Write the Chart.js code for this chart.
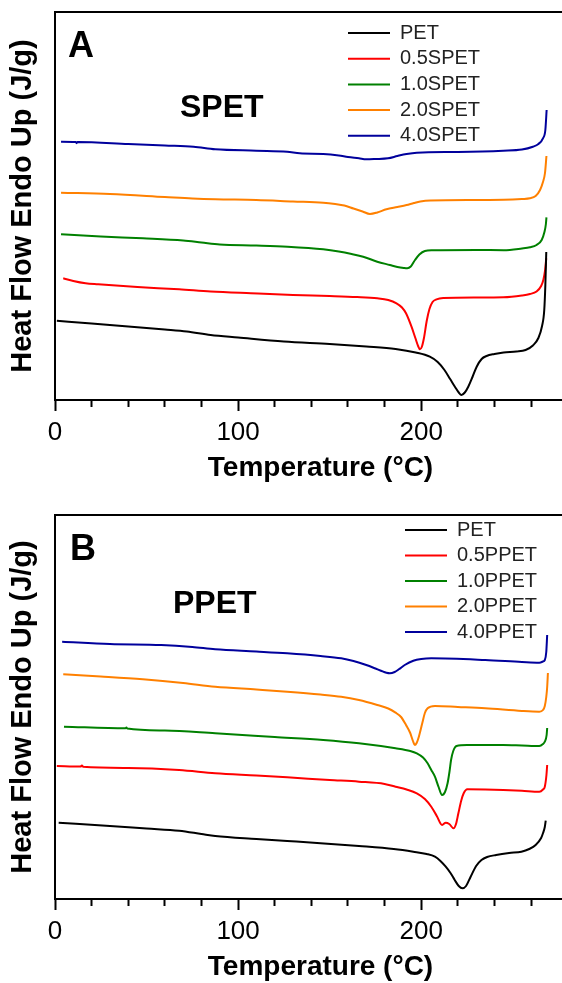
<!DOCTYPE html>
<html>
<head>
<meta charset="utf-8">
<script src="https://cdn.jsdelivr.net/npm/chart.js@4.4.1/dist/chart.umd.min.js"></script>
<style>
  html, body { margin: 0; padding: 0; background: #fff; overflow: hidden; width: 562px; height: 983px; }
  canvas { position: absolute; left: 0; }
  #chartS { top: 0; }
  #chartP { top: 495px; }
</style>
</head>
<body>
<canvas id="chartS" width="586" height="495"></canvas>
<canvas id="chartP" width="586" height="488"></canvas>
<script>
// DSC heating scans: temperature (°C) vs. heat flow, curves offset vertically (endo up)
const namesS = ['PET', '0.5SPET', '1.0SPET', '2.0SPET', '4.0SPET'];
const namesP = ['PET', '0.5PPET', '1.0PPET', '2.0PPET', '4.0PPET'];
const curveColors = ['#000000', '#ff0000', '#008000', '#ff8000', '#00009c'];
const xTickLabels = [0, 100, 200];

// ---- Panel A: SPET series, [temperature, heat flow] ----
const petS = [[1,7.93],[20,7.65],[40,7.35],[60,7.05],[72,6.85],[85,6.5],[100,6.25],[125,5.85],[150,5.6],[170,5.35],[186,5.1],[197,4.75],[204.7,4.33],[209,3.8],[212.7,3.0],[215.8,2.1],[218.4,1.33],[220.5,0.75],[222,0.5],[223.8,0.75],[225.7,1.33],[228,2.3],[230.3,3.33],[233,4.1],[235.7,4.4],[240,4.6],[245,4.75],[252,4.85],[257,5.0],[261,5.45],[264,6.2],[266,7.4],[267.2,9.0],[267.8,11.5],[268.3,14.8]];
const s05 = [[4.5,12.17],[10,11.9],[16.7,11.67],[23.6,11.57],[45,11.3],[67.8,11.07],[85,10.85],[107,10.67],[130,10.5],[150,10.4],[165,10.3],[176,10.17],[182,10.0],[186.5,9.67],[189.5,9.25],[191.7,8.67],[194.7,7.33],[196.8,6.2],[198.3,5.4],[199.3,5.07],[200.3,5.3],[201.5,6.2],[203,7.9],[204.5,9.1],[206.2,9.8],[208.4,10.07],[212,10.2],[230,10.25],[245,10.27],[255,10.45],[259.4,10.6],[263,10.85],[265.5,11.4],[266.7,12.0],[267.6,12.9],[268.3,14.17]];
const s10 = [[3.3,16.57],[25,16.35],[48,16.17],[70,15.95],[80,15.75],[90,15.55],[110,15.45],[127,15.33],[146.5,15.07],[155,14.85],[162,14.6],[168.3,14.33],[176,13.83],[182.9,13.5],[187,13.3],[190.5,13.2],[192.4,13.17],[194.3,13.35],[196.6,14.0],[199,14.55],[202,14.9],[206,14.97],[230,15.0],[245,14.98],[255,15.15],[259.4,15.27],[263,15.5],[265.8,16.0],[267.3,16.8],[268.1,17.6],[268.4,18.27]];
const s20 = [[3.3,20.73],[30,20.6],[60,20.3],[75,20.15],[87.5,20.07],[110,20.0],[130,19.85],[146.5,19.73],[153,19.6],[158,19.45],[163,19.15],[168,18.85],[172,18.6],[176,18.75],[181,19.07],[187,19.3],[192,19.5],[196,19.7],[199.5,19.85],[205,19.95],[230,20.0],[245,20.02],[255,20.1],[259.4,20.17],[262.5,20.4],[264.9,21.0],[266.5,21.8],[267.6,22.7],[268.4,24.4]];
const s40 = [[3.3,25.83],[11.3,25.8],[11.8,25.68],[12.3,25.8],[40,25.6],[60,25.45],[75.7,25.33],[87.5,25.07],[110,24.93],[126.8,24.83],[133.7,24.67],[146.5,24.6],[155,24.45],[160,24.3],[166,24.17],[170,24.07],[175,24.1],[181.9,24.17],[187,24.4],[192,24.6],[197.6,24.73],[220,24.8],[244.8,24.93],[255,25.05],[261,25.33],[264,25.6],[266.5,26.17],[267.8,27.0],[268.5,29.0]];

// ---- Panel B: PPET series, [temperature, heat flow] ----
const petP = [[2,7.63],[30,7.3],[50,7.05],[67.8,6.83],[80,6.5],[87.5,6.3],[110,6.0],[126.8,5.8],[145,5.58],[166,5.3],[185,5.0],[195.7,4.73],[203,4.5],[207.5,4.23],[210.5,3.8],[213.4,3.23],[216,2.6],[218.3,1.9],[220.5,1.3],[222.5,1.07],[224.5,1.3],[227,2.23],[230,3.3],[232.9,3.9],[236,4.2],[240.9,4.4],[248,4.6],[254.7,4.73],[259,5.0],[262.5,5.4],[265.5,6.1],[266.5,6.57],[267.5,7.2],[268,7.83]];
const p05 = [[1,13.3],[14,13.25],[14.7,13.35],[15.4,13.22],[40,13.1],[67.8,12.9],[87.5,12.57],[110,12.35],[126.8,12.17],[150,11.9],[166,11.73],[180,11.5],[186,11.23],[192,10.95],[197.6,10.57],[202,10.0],[205.5,9.23],[208.5,8.3],[211.4,7.4],[213.4,7.63],[215.3,7.5],[217.7,7.07],[219,7.5],[220.3,8.57],[221.8,9.8],[223.2,10.57],[225.2,10.97],[235,10.95],[244.8,10.9],[255,10.82],[264.5,10.73],[266.5,10.95],[267.5,11.23],[268.4,12.4],[268.8,13.4]];
const p10 = [[4.9,17.23],[38.5,17.07],[39,17.15],[39.5,17.05],[60,16.85],[87.5,16.57],[120,16.2],[146.5,15.9],[166,15.57],[186,15.07],[194,14.8],[197.6,14.57],[201,14.15],[203.5,13.57],[205.5,12.9],[207.5,12.23],[209.5,11.2],[211.4,10.4],[213,10.7],[214.4,11.57],[215.5,12.8],[216.3,13.9],[217.5,14.8],[219.3,15.3],[225,15.4],[244.8,15.4],[255,15.35],[264.5,15.3],[266.5,15.5],[267.5,15.73],[268.5,16.4],[268.8,17.1]];
const p20 = [[4.5,22.47],[25,22.25],[48,21.97],[70,21.6],[87.5,21.23],[110,20.95],[126.8,20.73],[145,20.45],[156.3,20.23],[166,19.9],[176,19.4],[182,19.05],[186,18.63],[189,18.2],[191.7,17.4],[194,16.6],[195.5,15.8],[196.5,15.4],[197.5,15.6],[198.5,16.1],[200.6,17.6],[202,18.6],[203.5,19.07],[207.5,19.3],[220,19.2],[235,19.07],[255,18.8],[264.5,18.73],[266.5,18.9],[267.5,19.3],[268.3,20.2],[268.8,21.2],[269.2,22.6]];
const p40 = [[3.9,25.73],[30,25.5],[58,25.4],[75,25.2],[87.5,24.97],[110,24.75],[126.8,24.57],[145,24.3],[156.3,24.07],[163,23.8],[170,23.4],[175,23.05],[178,22.83],[181,22.62],[182.9,22.57],[185.5,22.7],[187.8,22.97],[191,23.4],[195.7,23.83],[200,24.0],[205.5,24.07],[235,23.9],[255,23.7],[264.5,23.63],[266.5,23.75],[267.5,23.9],[268.3,24.7],[268.8,26.4]];

const FONT = "'Liberation Sans', Arial, Helvetica, sans-serif";

// Moves the legend box to a fixed spot inside the plot
const legendSpot = {
  id: 'legendSpot',
  afterLayout(chart, args, opts) {
    const lg = chart.legend;
    if (!lg || opts.x == null) return;
    const w = lg.width, h = lg.height;
    lg.left = opts.x; lg.right = opts.x + w;
    lg.top = opts.y; lg.bottom = opts.y + h;
  }
};

// Panel letter and series-family caption
const panelText = {
  id: 'panelText',
  afterDraw(chart, args, opts) {
    const ctx = chart.ctx;
    ctx.save();
    ctx.fillStyle = '#000';
    ctx.textAlign = 'left';
    ctx.textBaseline = 'alphabetic';
    (opts.items || []).forEach(it => {
      ctx.font = it.font;
      ctx.fillText(it.text, it.x, it.y);
    });
    ctx.restore();
  }
};

function buildChart(canvasId, names, series, cfg) {
  const datasets = series.map((pts, i) => ({
    label: names[i],
    data: pts.map(p => ({ x: p[0], y: p[1] })),
    borderColor: curveColors[i],
    backgroundColor: curveColors[i],
    borderWidth: 2,
    pointRadius: 0,
    fill: false,
    cubicInterpolationMode: 'monotone'
  }));

  return new Chart(document.getElementById(canvasId), {
    type: 'line',
    data: { datasets },
    plugins: [legendSpot, panelText],
    options: {
      responsive: false,
      devicePixelRatio: 1,
      animation: false,
      layout: { padding: { top: cfg.padTop, left: 0, right: 0, bottom: 0 } },
      scales: {
        x: {
          type: 'linear',
          position: 'bottom',
          min: 0,
          max: 290,
          afterFit: s => { s.height = cfg.xAxisHeight; },
          border: { display: true, color: '#000', width: 2 },
          grid: {
            display: true,
            drawOnChartArea: false,
            drawTicks: true,
            tickLength: 11,
            tickWidth: 2,
            tickColor: '#000',
            tickBorderDash: ctx => (ctx.tick && ctx.tick.value % 100 === 0) ? [] : [6, 40]
          },
          ticks: {
            stepSize: 20,
            autoSkip: false,
            maxRotation: 0,
            minRotation: 0,
            padding: 0,
            color: '#000',
            font: { family: FONT, size: 26, lineHeight: 1.715 },
            callback: v => xTickLabels.includes(v) ? String(v) : ''
          },
          title: {
            display: true,
            text: 'Temperature (°C)',
            color: '#000',
            font: { family: FONT, size: 28, weight: 'bold', lineHeight: 1 },
            padding: { top: 0, bottom: cfg.xTitlePad }
          }
        },
        xTop: {
          type: 'linear',
          position: 'top',
          min: 0,
          max: 290,
          afterFit: s => { s.height = 0; },
          border: { display: true, color: '#000', width: 2 },
          grid: { display: false, drawTicks: false },
          ticks: { display: false }
        },
        y: {
          type: 'linear',
          position: 'left',
          min: 0,
          max: cfg.yMax,
          afterFit: s => { s.width = 55; },
          border: { display: true, color: '#000', width: 2 },
          grid: { display: false, drawTicks: false },
          ticks: { display: false },
          title: {
            display: true,
            text: 'Heat Flow Endo Up (J/g)',
            color: '#000',
            font: { family: FONT, size: 29, weight: 'bold', lineHeight: 1 },
            padding: { top: 8.5, bottom: 0 }
          }
        }
      },
      plugins: {
        tooltip: { enabled: false },
        legend: {
          display: true,
          position: 'chartArea',
          align: 'start',
          labels: {
            color: '#222',
            font: { family: FONT, size: 20 },
            boxWidth: 42,
            boxHeight: 2,
            padding: cfg.legendPad,
            generateLabels: chart => Chart.defaults.plugins.legend.labels.generateLabels(chart)
              .map(l => Object.assign({}, l, { lineWidth: 0, fillStyle: l.strokeStyle }))
          }
        },
        legendSpot: { x: cfg.legendX, y: cfg.legendY },
        panelText: { items: cfg.texts }
      }
    }
  });
}

buildChart('chartS', namesS, [petS, s05, s10, s20, s40], {
  padTop: 12,
  xAxisHeight: 95,
  xTitlePad: 12.5,
  yMax: 38.8,
  legendPad: 5.7,
  legendX: 348 - 5.7,
  legendY: 33 - 10 - 5.7,
  texts: [
    { text: 'A', x: 68, y: 57, font: `bold 36px ${FONT}` },
    { text: 'SPET', x: 180, y: 117, font: `bold 32px ${FONT}` }
  ]
});

buildChart('chartP', namesP, [petP, p05, p10, p20, p40], {
  padTop: 20,
  xAxisHeight: 84,
  xTitlePad: 1.5,
  yMax: 38.4,
  legendPad: 5.5,
  legendX: 405 - 5.5,
  legendY: 530 - 495 - 10 - 5.5,
  texts: [
    { text: 'B', x: 70, y: 65, font: `bold 36px ${FONT}` },
    { text: 'PPET', x: 173, y: 118, font: `bold 32px ${FONT}` }
  ]
});
</script>
</body>
</html>
